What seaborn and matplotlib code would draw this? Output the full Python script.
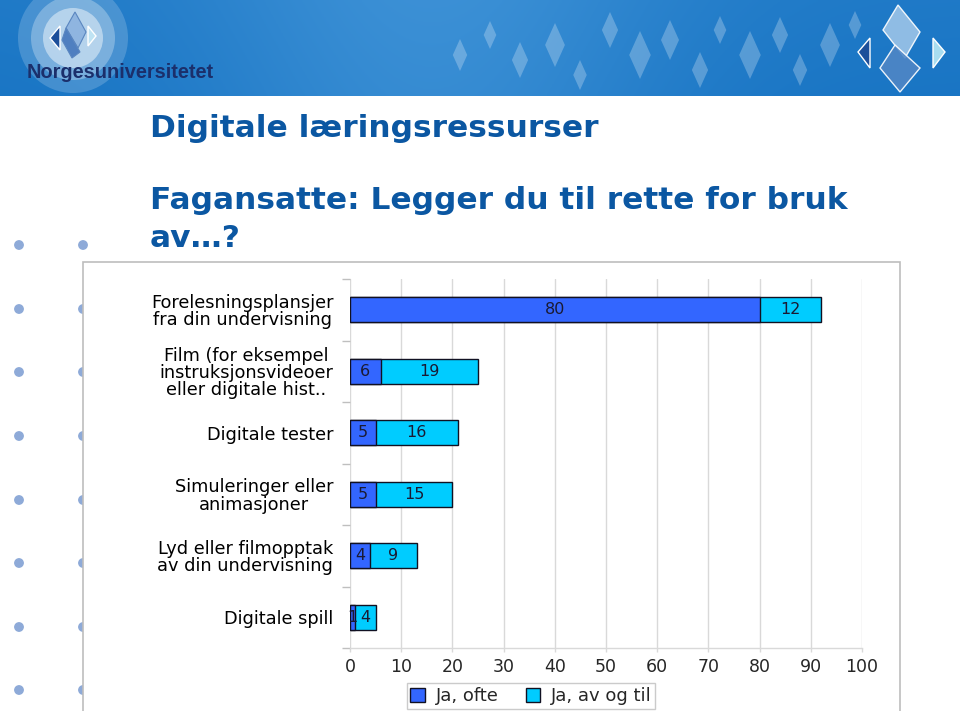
import numpy as np
import pandas as pd
import matplotlib
matplotlib.use("Agg")
import matplotlib.pyplot as plt
import matplotlib.patches as mpatches
from matplotlib.ticker import FixedLocator
import seaborn as sns

# ---------------- data ----------------
categories = [
    "Forelesningsplansjer\nfra din undervisning",
    "Film (for eksempel\ninstruksjonsvideoer\neller digitale hist..",
    "Digitale tester",
    "Simuleringer eller\nanimasjoner",
    "Lyd eller filmopptak\nav din undervisning",
    "Digitale spill",
]
ja_ofte = [80, 6, 5, 5, 4, 1]
ja_av_og_til = [12, 19, 16, 15, 9, 4]
series_names = ["Ja, ofte", "Ja, av og til"]
x_ticks = [0, 10, 20, 30, 40, 50, 60, 70, 80, 90, 100]

title1 = "Digitale læringsressurser"
title2a = "Fagansatte: Legger du til rette for bruk"
title2b = "av…?"

df = pd.DataFrame({"kategori": categories, "ofte": ja_ofte, "avogtil": ja_av_og_til})
df["total"] = df["ofte"] + df["avogtil"]

C_DARK = "#3366FF"
C_LIGHT = "#00CCFF"
TITLE_C = "#0B57A2"

sns.set_theme(style="white")
plt.rcParams["font.family"] = ["DejaVu Sans"]

W, H = 960, 711
fig = plt.figure(figsize=(W / 100, H / 100), dpi=100)
fig.patch.set_facecolor("white")


def fx(px):
    return px / W


def fy(py):
    return 1 - py / H


# ---------------- background / decorations ----------------
bg = fig.add_axes([0, 0, 1, 1], zorder=0)
bg.set_xlim(0, W)
bg.set_ylim(H, 0)
bg.axis("off")

for yb in [245, 309, 372, 436, 500, 563, 627, 690]:
    for xb in [19, 83]:
        bg.add_patch(mpatches.Circle((xb, yb), 4.2, color="#8EAAD8", zorder=1))

bg.add_patch(mpatches.Rectangle((83, 262), 817, 460, facecolor="white",
                                edgecolor="#BDBDBD", lw=1.2, zorder=2))

renderer = fig.canvas.get_renderer()


def fit_text(axh, x, y, s, target_w, size0, **kw):
    t = axh.text(x, y, s, fontsize=size0, ha="left", va="baseline", zorder=4, **kw)
    w = t.get_window_extent(renderer).width
    t.set_fontsize(size0 * target_w / w)
    return t


t1 = fit_text(bg, 150, 137, title1, 447, 22, fontweight="bold", color=TITLE_C)
t2 = fit_text(bg, 150, 209, title2a, 695, 22, fontweight="bold", color=TITLE_C)
bg.text(150, 247, title2b, fontsize=t2.get_fontsize(), fontweight="bold", color=TITLE_C,
        ha="left", va="baseline", zorder=4)

# ---------------- banner ----------------
ban = fig.add_axes([0, fy(96), 1, 96 / H], zorder=1)
ban.set_xlim(0, W)
ban.set_ylim(96, 0)
ban.axis("off")
xs = np.linspace(0, 1, 400)
ys = np.linspace(0, 1, 40)
X, Y = np.meshgrid(xs, ys)
base = np.array([0.10, 0.46, 0.77])
light = np.array([0.24, 0.57, 0.84])
t = np.exp(-((X - 0.45) ** 2) / 0.06) * 0.8 + 0.15 * (1 - Y)
img = base[None, None, :] * (1 - t[..., None]) + light[None, None, :] * t[..., None]
ban.imshow(img, extent=[0, W, 96, 0], aspect="auto", zorder=0)

shapes = [
    (460, 55, 16), (490, 35, 14), (520, 60, 18), (555, 45, 22), (580, 75, 15),
    (610, 30, 18), (640, 55, 24), (670, 40, 20), (700, 70, 18), (720, 30, 14),
    (750, 55, 24), (780, 35, 18), (800, 70, 16), (830, 45, 22), (855, 25, 14),
]
for (cx, cy, s) in shapes:
    ban.add_patch(mpatches.Polygon([(cx, cy - s), (cx + s * 0.45, cy), (cx, cy + s), (cx - s * 0.45, cy)],
                                   closed=True, facecolor="white", alpha=0.25, edgecolor="none", zorder=1))

ban.add_patch(mpatches.Polygon([(898, 5), (920, 32), (905, 58), (883, 30)], closed=True,
                               facecolor="#9CC4E8", edgecolor="white", lw=1, alpha=0.9, zorder=2))
ban.add_patch(mpatches.Polygon([(895, 45), (920, 68), (900, 92), (880, 68)], closed=True,
                               facecolor="#4F86C6", edgecolor="white", lw=1, alpha=0.9, zorder=2))
ban.add_patch(mpatches.Polygon([(870, 38), (858, 52), (870, 68)], closed=True,
                               facecolor="#1D4F9A", edgecolor="white", lw=1, zorder=2))
ban.add_patch(mpatches.Polygon([(933, 38), (945, 52), (933, 68)], closed=True,
                               facecolor="#A8DDF0", edgecolor="white", lw=1, zorder=2))

for r, a in [(55, 0.18), (42, 0.28), (30, 0.45)]:
    ban.add_patch(mpatches.Circle((73, 38), r, facecolor="white", alpha=a, edgecolor="none", zorder=2))
ban.add_patch(mpatches.Polygon([(75, 12), (86, 32), (78, 48), (66, 28)], closed=True,
                               facecolor="#8FB5E0", edgecolor="#5A86C0", lw=0.8, zorder=3))
ban.add_patch(mpatches.Polygon([(66, 28), (80, 52), (72, 58), (62, 40)], closed=True,
                               facecolor="#4F7FC0", edgecolor="#5A86C0", lw=0.8, zorder=3))
ban.add_patch(mpatches.Polygon([(60, 26), (50, 38), (60, 50)], closed=True,
                               facecolor="#1D4F9A", zorder=3))
ban.add_patch(mpatches.Polygon([(88, 26), (96, 36), (88, 46)], closed=True,
                               facecolor="#BFE3F3", zorder=3))
fit_text(ban, 27, 78, "Norgesuniversitetet", 188, 16, color="#1B2F6B", fontweight="bold",
         family=["Liberation Sans Narrow", "Liberation Sans"])

# ---------------- chart ----------------
ax = fig.add_axes([fx(350), fy(648), fx(862 - 350), (648 - 279) / H], zorder=3)
ax.patch.set_alpha(0)

sns.barplot(data=df, x="total", y="kategori", orient="h", color=C_LIGHT,
            edgecolor="#111122", linewidth=1.0, width=0.41, saturation=1, ax=ax, zorder=3)
sns.barplot(data=df, x="ofte", y="kategori", orient="h", color=C_DARK,
            edgecolor="#111122", linewidth=1.0, width=0.41, saturation=1, ax=ax, zorder=4)

for i, (o, a) in enumerate(zip(ja_ofte, ja_av_og_til)):
    ax.text(o / 2, i, str(o), ha="center", va="center", fontsize=11.5, color="#1A1A33", zorder=6)
    ax.text(o + a / 2, i, str(a), ha="center", va="center", fontsize=11.5, color="#1A1A33", zorder=6)

ax.set_xlim(0, 100)
ax.set_ylim(len(categories) - 0.5, -0.5)
ax.set_xticks(x_ticks)
ax.set_xticklabels([str(v) for v in x_ticks], fontsize=12.5)
ax.xaxis.grid(True, color="#D9D9D9", lw=1)
ax.set_axisbelow(True)
ax.set_xlabel("")
ax.set_ylabel("")

ax.set_yticks(range(len(categories)))
ax.set_yticklabels(categories, fontsize=12.8, multialignment="center", color="black",
                   linespacing=0.96)
ax.tick_params(axis="y", length=0, pad=12)
ax.yaxis.set_minor_locator(FixedLocator(np.arange(-0.5, len(categories), 1.0)))
ax.tick_params(axis="y", which="minor", length=6, color="#BFBFBF", width=1, left=True)
ax.tick_params(axis="x", length=3, color="#D9D9D9", width=1, pad=4, bottom=True)

for s in ["top", "right", "left"]:
    ax.spines[s].set_visible(False)
ax.spines["bottom"].set_color("#D9D9D9")
ax.spines["bottom"].set_linewidth(1)

handles = [mpatches.Patch(facecolor=C_DARK, edgecolor="#111122", lw=1),
           mpatches.Patch(facecolor=C_LIGHT, edgecolor="#111122", lw=1)]
leg = fig.legend(handles, series_names, loc="center", bbox_to_anchor=(fx(531), fy(696)),
                 ncol=2, frameon=True, fancybox=False, fontsize=13, handlelength=0.8,
                 handleheight=0.8, handletextpad=0.6, columnspacing=1.5, borderpad=0.2,
                 borderaxespad=0, edgecolor="#BFBFBF")
leg.get_frame().set_linewidth(1)
leg.set_zorder(5)

fig.savefig("out.png", dpi=100)
